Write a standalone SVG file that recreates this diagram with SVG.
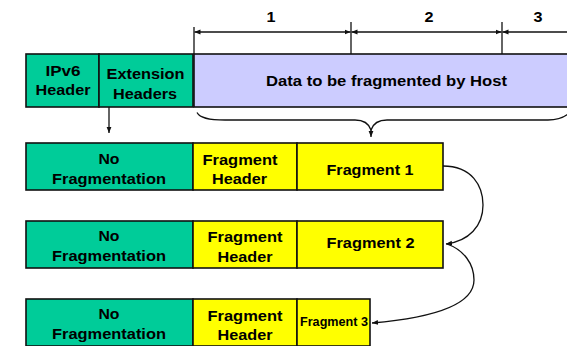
<svg xmlns="http://www.w3.org/2000/svg" width="567" height="346" viewBox="0 0 567 346">
<defs>
<style>
.box{stroke:#111;stroke-width:1.6}
.g{fill:#00CC99}
.y{fill:#FFFF00}
.l{fill:#CCCCFF}
text{font-family:"Liberation Sans",Arial,sans-serif;font-weight:bold;font-size:15px;fill:#000;text-anchor:middle}
.c{fill:none;stroke:#111;stroke-width:1.3}
.t{fill:none;stroke:#111;stroke-width:1.3}
</style>
<marker id="ah" viewBox="0 0 10 10" refX="10" refY="5" markerWidth="6" markerHeight="6" markerUnits="userSpaceOnUse" orient="auto">
<path d="M0,1 L10,5 L0,9 Z" fill="#111"/>
</marker>
</defs>
<rect width="567" height="346" fill="#fff"/>

<g id="dimensions">
<line class="t" x1="194" y1="27" x2="194" y2="54"/>
<line class="t" x1="351" y1="22" x2="351" y2="54"/>
<line class="t" x1="502" y1="22" x2="502" y2="54"/>
<line class="c" x1="300" y1="32" x2="194.5" y2="32" marker-end="url(#ah)"/>
<line class="c" x1="300" y1="32" x2="350.5" y2="32" marker-end="url(#ah)"/>
<line class="c" x1="420" y1="32" x2="351.5" y2="32" marker-end="url(#ah)"/>
<line class="c" x1="420" y1="32" x2="501.5" y2="32" marker-end="url(#ah)"/>
<line class="c" x1="570" y1="32" x2="502.5" y2="32" marker-end="url(#ah)"/>
<text x="271" y="22" textLength="9" lengthAdjust="spacingAndGlyphs">1</text>
<text x="429" y="22" textLength="9" lengthAdjust="spacingAndGlyphs">2</text>
<text x="538" y="22" textLength="9" lengthAdjust="spacingAndGlyphs">3</text>
</g>

<g id="ipv6-header">
<rect class="box g" x="26" y="54" width="73" height="53"/>
<text x="63" y="76" textLength="35" lengthAdjust="spacingAndGlyphs">IPv6</text>
<text x="63" y="95" textLength="55" lengthAdjust="spacingAndGlyphs">Header</text>
</g>
<g id="extension-headers">
<rect class="box g" x="99" y="54" width="94" height="53"/>
<text x="145.5" y="79" textLength="78" lengthAdjust="spacingAndGlyphs">Extension</text>
<text x="145" y="99" textLength="64" lengthAdjust="spacingAndGlyphs">Headers</text>
</g>
<g id="data">
<rect class="box l" x="194" y="54" width="380" height="53"/>
<text x="386.5" y="86" textLength="241" lengthAdjust="spacingAndGlyphs">Data to be fragmented by Host</text>
</g>

<g id="row1-nofrag">
<rect class="box g" x="26" y="143" width="167" height="47"/>
<text x="109" y="163.5" textLength="21" lengthAdjust="spacingAndGlyphs">No</text>
<text x="109" y="183.5" textLength="114" lengthAdjust="spacingAndGlyphs">Fragmentation</text>
</g>
<g id="row1-fraghdr">
<rect class="box y" x="193" y="143" width="104" height="47"/>
<text x="240" y="164.5" textLength="75" lengthAdjust="spacingAndGlyphs">Fragment</text>
<text x="239.5" y="183.5" textLength="55" lengthAdjust="spacingAndGlyphs">Header</text>
</g>
<g id="fragment1">
<rect class="box y" x="297" y="143" width="146" height="47"/>
<text x="370" y="174.5" textLength="87" lengthAdjust="spacingAndGlyphs">Fragment 1</text>
</g>

<g id="row2-nofrag">
<rect class="box g" x="26" y="221" width="167" height="47"/>
<text x="109" y="241" textLength="21" lengthAdjust="spacingAndGlyphs">No</text>
<text x="109" y="261" textLength="114" lengthAdjust="spacingAndGlyphs">Fragmentation</text>
</g>
<g id="row2-fraghdr">
<rect class="box y" x="193" y="221" width="104" height="47"/>
<text x="245" y="242" textLength="75" lengthAdjust="spacingAndGlyphs">Fragment</text>
<text x="245" y="262" textLength="55" lengthAdjust="spacingAndGlyphs">Header</text>
</g>
<g id="fragment2">
<rect class="box y" x="297" y="221" width="146" height="47"/>
<text x="370.5" y="247.5" textLength="88" lengthAdjust="spacingAndGlyphs">Fragment 2</text>
</g>

<g id="row3-nofrag">
<rect class="box g" x="26" y="299" width="167" height="47"/>
<text x="109" y="318.5" textLength="21" lengthAdjust="spacingAndGlyphs">No</text>
<text x="109" y="338.5" textLength="114" lengthAdjust="spacingAndGlyphs">Fragmentation</text>
</g>
<g id="row3-fraghdr">
<rect class="box y" x="193" y="299" width="104" height="47"/>
<text x="245" y="321" textLength="75" lengthAdjust="spacingAndGlyphs">Fragment</text>
<text x="245" y="340" textLength="55" lengthAdjust="spacingAndGlyphs">Header</text>
</g>
<g id="fragment3">
<rect class="box y" x="297" y="299" width="73" height="47"/>
<text x="334" y="326" style="font-size:12px" textLength="68" lengthAdjust="spacingAndGlyphs">Fragment 3</text>
</g>

<g id="connectors">
<line class="c" x1="109" y1="107" x2="109" y2="133" marker-end="url(#ah)"/>
<path class="c" d="M197,112.5 C200,118 208,120 225,120 L355,120 C364,120 369,124 371,130 C373,124 378,120 387,120 L548,120 C558,120 563,118 568,114"/>
<line class="c" x1="371" y1="129" x2="371" y2="137" marker-end="url(#ah)"/>
<path class="c" d="M443,166 C472,166 483,186 483,205 C483,226 469,241 446,244" marker-end="url(#ah)"/>
<path class="c" d="M447,244 C464,250 474,264 474,280 C474,306 430,318 372,323" marker-end="url(#ah)"/>
</g>
</svg>
